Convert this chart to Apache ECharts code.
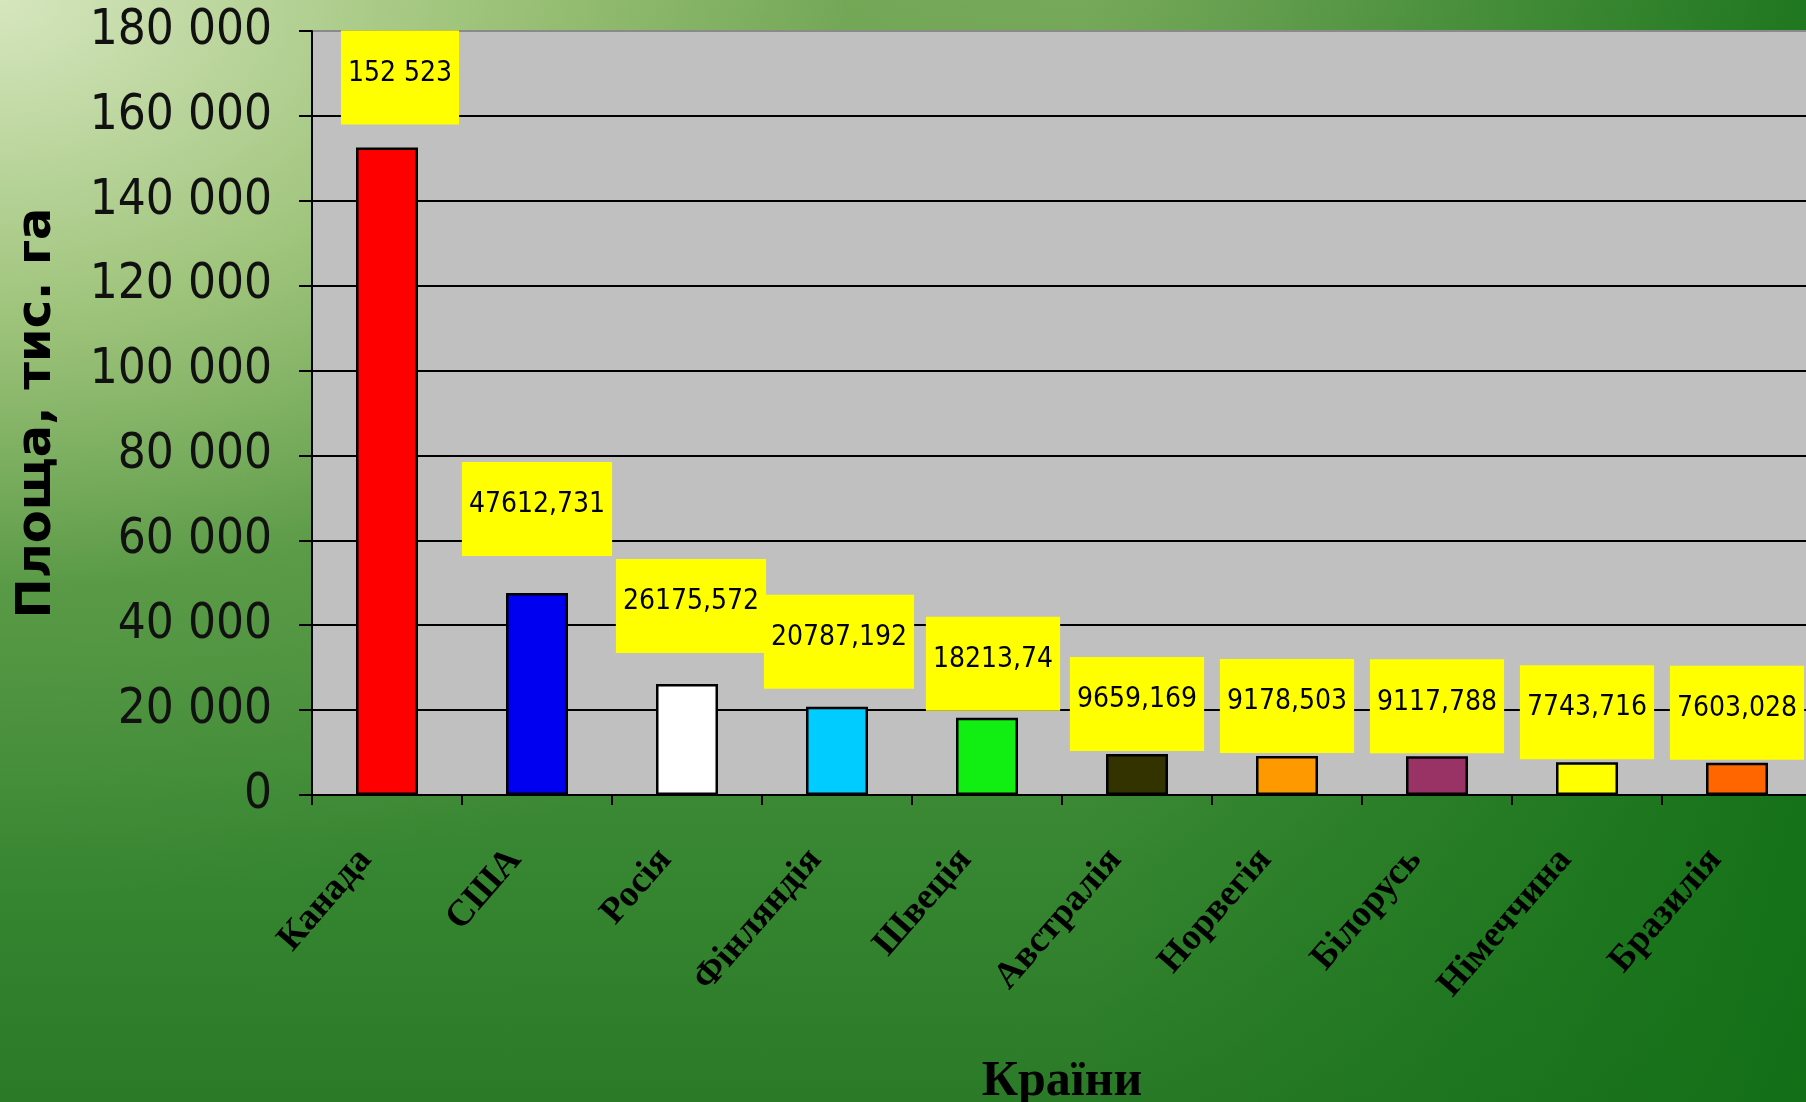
<!DOCTYPE html>
<html>
<head>
<meta charset="utf-8">
<script src="https://cdn.jsdelivr.net/npm/echarts@6/dist/echarts.min.js"></script>
<style>
    html, body {
        margin: 0;
        padding: 0;
    }
    body {
        width: 1806px;
        height: 1102px;
        overflow: hidden;
        background:
            radial-gradient(ellipse 1300px 900px at 0% 0%, rgba(214, 230, 190, 1) 0%, rgba(165, 200, 128, 0.9) 35%, rgba(110, 165, 80, 0.4) 65%, rgba(90, 150, 60, 0) 100%),
            linear-gradient(to right, rgba(20, 110, 25, 0) 60%, rgba(15, 110, 20, 0.85) 100%),
            linear-gradient(to bottom, #78aa5c 0%, #4f9442 50%, #378631 78%, #2a7a28 100%);
    }
    #chart {
        width: 1806px;
        height: 1102px;
    }
</style>
</head>
<body>
<div id="chart"></div>
<script>
    // країни
    var countries = ['Канада', 'США', 'Росія', 'Фінляндія', 'Швеція', 'Австралія', 'Норвегія', 'Білорусь', 'Німеччина', 'Бразилія'];
    // площа, тис. га
    var areas = [152523, 47612.731, 26175.572, 20787.192, 18213.74, 9659.169, 9178.503, 9117.788, 7743.716, 7603.028];
    var barColors = ['#ff0000', '#0000f0', '#ffffff', '#00ccff', '#11ee11', '#333300', '#ff9900', '#993366', '#ffff00', '#ff6600'];
    // відступи підписів від стовпців (px)
    var labelGap = [23, 37, 31, 18, 7, 3, 3, 3, 3, 3];
    var labelShift = [13, 0, 4, 2, 6, 0, 0, 0, 0, 0];

    function groupThousands(v) {
        return String(v).replace(/\B(?=(\d{3})+(?!\d))/g, ' ');
    }

    function valueText(v) {
        if (Math.round(v) === v) {
            return groupThousands(v);
        }
        return String(v).replace('.', ',');
    }

    var narrow = "'DejaVu Sans Condensed', sans-serif";

    function draw() {
        var option = {
            backgroundColor: 'transparent',
            animation: false,
            grid: {
                show: true,
                left: 312,
                top: 31,
                width: 1500,
                height: 764,
                containLabel: false,
                outerBoundsMode: 'none',
                backgroundColor: '#c0c0c0',
                borderWidth: 0
            },
            xAxis: {
                type: 'category',
                data: countries,
                boundaryGap: true,
                name: 'Країни',
                nameLocation: 'middle',
                nameGap: 262,
                nameTextStyle: {
                    fontFamily: "'Liberation Serif', serif",
                    fontWeight: 'bold',
                    fontSize: 50,
                    color: '#000'
                },
                axisLine: {
                    lineStyle: { color: '#000', width: 2 }
                },
                axisTick: {
                    show: true,
                    length: 10,
                    lineStyle: { color: '#000', width: 2 }
                },
                axisLabel: {
                    interval: 0,
                    rotate: 49,
                    margin: 62,
                    align: 'right',
                    verticalAlign: 'bottom',
                    padding: [0, 12, 0, 0],
                    fontFamily: "'Liberation Serif', serif",
                    fontWeight: 'bold',
                    fontSize: 37,
                    color: '#000'
                }
            },
            yAxis: {
                type: 'value',
                min: 0,
                max: 180000,
                interval: 20000,
                name: 'Площа, тис. га',
                nameLocation: 'middle',
                nameRotate: 90,
                nameGap: 250,
                nameTextStyle: {
                    fontFamily: "'DejaVu Sans', sans-serif",
                    fontWeight: 'bold',
                    fontSize: 48,
                    color: '#000'
                },
                axisLine: {
                    show: true,
                    lineStyle: { color: '#000', width: 2 }
                },
                axisTick: {
                    show: true,
                    length: 13,
                    lineStyle: { color: '#000', width: 2 }
                },
                axisLabel: {
                    margin: 40,
                    fontFamily: narrow,
                    fontSize: 49,
                    color: '#111',
                    formatter: function (v) {
                        return groupThousands(v);
                    }
                },
                splitLine: {
                    lineStyle: {
                        color: ['#000', '#000', '#000', '#000', '#000', '#000', '#000', '#000', '#000', '#8a8a8a'],
                        width: 2
                    }
                }
            },
            series: [{
                type: 'bar',
                barWidth: 62,
                data: areas.map(function (v, i) {
                    return {
                        value: v,
                        itemStyle: { color: barColors[i] },
                        label: {
                            distance: labelGap[i],
                            offset: [labelShift[i], 0]
                        }
                    };
                }),
                itemStyle: {
                    borderColor: '#000',
                    borderWidth: 2.5
                },
                label: {
                    show: true,
                    position: 'top',
                    fontFamily: narrow,
                    fontSize: 28,
                    lineHeight: 32,
                    color: '#000',
                    backgroundColor: '#ffff00',
                    padding: [27, 7, 35, 7],
                    formatter: function (p) {
                        return valueText(p.value);
                    }
                }
            }]
        };

        var myChart = echarts.init(document.getElementById('chart'));
        myChart.setOption(option);
    }

    if (document.fonts && document.fonts.load) {
        Promise.all([
            document.fonts.load("28px 'DejaVu Sans Condensed'"),
            document.fonts.load("bold 40px 'Liberation Serif'"),
            document.fonts.load("bold 48px 'DejaVu Sans'")
        ]).then(draw, draw);
    } else {
        draw();
    }
</script>
</body>
</html>
